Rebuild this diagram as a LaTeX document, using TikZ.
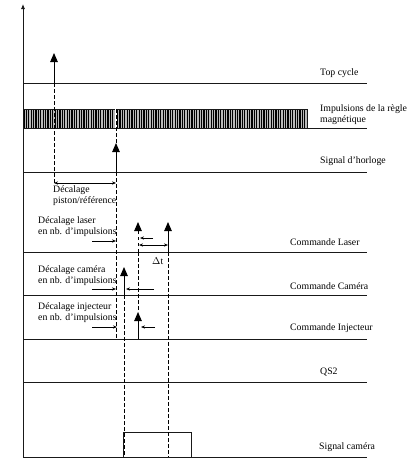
\documentclass[tikz,border=0pt]{standalone}
\usepackage{fontspec}
\setmainfont{Liberation Serif}
\usepackage{tikz}
\usetikzlibrary{arrows.meta,patterns.meta}

\begin{document}
\begin{tikzpicture}[
    x=1pt, y=-1pt,
    line/.style={line width=0.8pt, black!90},
    pulse/.style={line width=0.9pt, -{Triangle[length=9pt,width=7.5pt]}},
    guide/.style={line width=0.9pt, dash pattern=on 3.5pt off 2.5pt},
    gap/.style={line width=0.7pt, -{Stealth[length=4pt,width=3.2pt]}},
    gapboth/.style={line width=0.7pt, {Stealth[length=4pt,width=3.2pt]}-{Stealth[length=4pt,width=3.2pt]}},
    lbl/.style={anchor=west, inner sep=0pt, align=left, font=\fontsize{9.8}{11}\selectfont}
  ]
    \useasboundingbox (0,0) rectangle (420,466);

    % time axis
    \draw[line, -{Latex[length=5pt,width=4pt]}] (23,457) -- (23,4);

    % signal lines
    \draw[line] (23,83) -- (367,83);
    \fill[gray!55] (23,109) rectangle (307,128);
    \fill[pattern={Lines[angle=90,distance=2.4pt,line width=1.1pt]}] (23,109) rectangle (307,128);
    \draw[line] (23,109) rectangle (307,128);
    \draw[line] (307,128) -- (367,128);
    \draw[line] (23,172) -- (367,172);
    \draw[line] (23,252) -- (367,252);
    \draw[line] (23,295) -- (367,295);
    \draw[line] (23,339) -- (367,339);
    \draw[line] (23,382) -- (367,382);
    \draw[line] (23,457) -- (367,457);

    \node[lbl] (topcyc) at (320,73) {Top cycle};
    \node[lbl] (regle) at (320,115) {Impulsions de la règle\\magnétique};
    \node[lbl] (horloge) at (320,161) {Signal d'horloge};
    \node[lbl] (laser) at (290,242) {Commande Laser};
    \node[lbl] (camera) at (290,286) {Commande Caméra};
    \node[lbl] (inject) at (290,328) {Commande Injecteur};
    \node[lbl] (qs) at (320,372) {QS2};
    \node[lbl] (sigcam) at (319,447) {Signal caméra};

    % pulses
    \draw[pulse] (54,83) -- (54,53);
    \draw[pulse] (116,172) -- (116,143);
    \draw[pulse, guide] (138,252) -- (138,222);
    \draw[pulse] (168,252) -- (168,222);
    \draw[pulse] (124,295) -- (124,267);
    \draw[pulse] (138,339) -- (138,312);
    \draw[line] (123,457) -- (123,432) -- (191,432) -- (191,457);

    % dashed guides
    \draw[guide] (54,83) -- (54,183);
    \draw[white, line width=1.8pt] (116,109) -- (116,128);
    \draw[guide] (116,109) -- (116,143);
    \draw[guide] (116,172) -- (116,339);
    \draw[guide] (124,295) -- (124,457);
    \draw[guide] (138,252) -- (138,312);
    \draw[guide] (168,252) -- (168,457);

    % offsets
    \draw[gapboth] (54,183) -- (116,183);
    \node[lbl] (piston) at (53,196) {Décalage\\piston/référence};

    \node[lbl] (declaser) at (38,227) {Décalage laser\\en nb. d'impulsions};
    \draw[gap] (92,241) -- (116,241);
    \draw[gap] (153,238) -- (140,238);
    \draw[gapboth] (139,245) -- (168,245);
    \node[lbl] (dt) at (152,261) {$\Delta$t};

    \node[lbl] (deccam) at (38,276) {Décalage caméra\\en nb. d'impulsions};
    \draw[gap] (92,289) -- (116,289);
    \draw[gap] (154,289) -- (126,289);

    \node[lbl] (decinj) at (38,313) {Décalage injecteur\\en nb. d'impulsions};
    \draw[gap] (92,327) -- (117,327);
    \draw[gap] (155,327) -- (141,327);
\end{tikzpicture}
\end{document}
